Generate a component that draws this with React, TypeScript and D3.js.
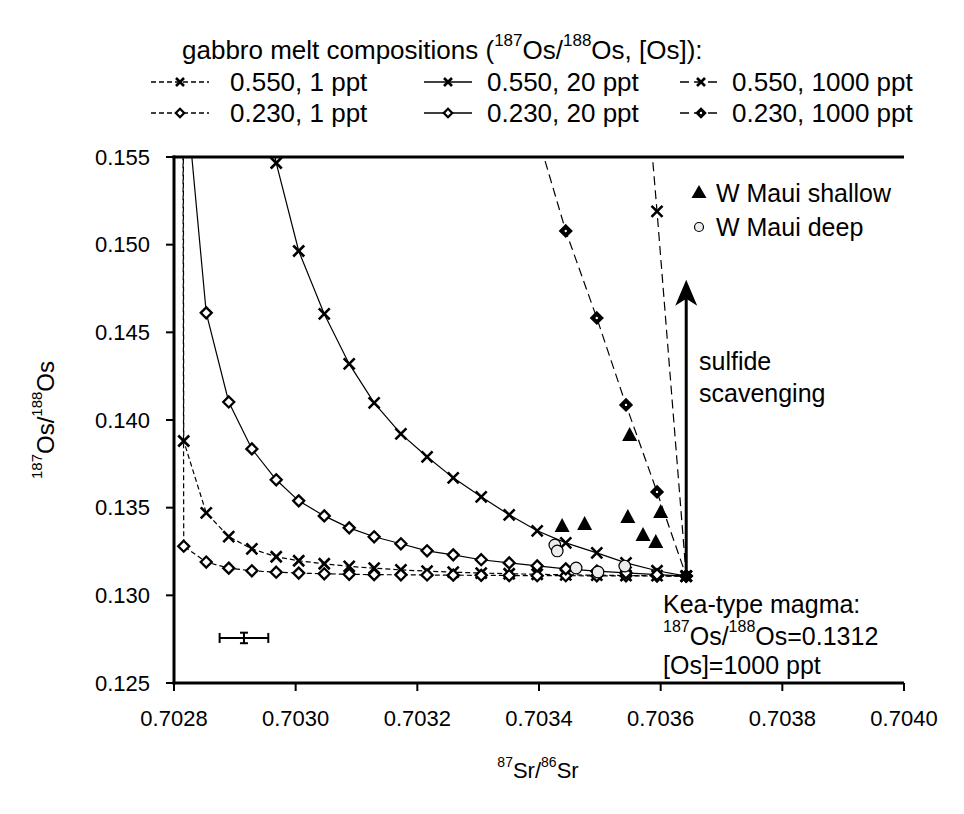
import React from 'react';
import * as d3 from 'd3';

const W = 964;
const H = 814;

// shared 87Sr/86Sr mixing steps (marker positions)
const srGrid = [0.70281, 0.702816, 0.702853, 0.70289, 0.702928, 0.702968, 0.703005, 0.703047, 0.703088, 0.703129, 0.703173, 0.703216, 0.703259, 0.703305, 0.703351, 0.703397, 0.703444, 0.703495, 0.703543, 0.703594, 0.703642];

// 187Os/188Os along each mixing curve (null = not computed)
const os550_1 = [0.30, 0.1388, 0.1347, 0.13335, 0.13265, 0.1322, 0.13197, 0.1318, 0.13165, 0.13155, 0.13145, 0.13138, 0.13132, 0.13127, 0.13123, 0.1312, 0.13117, 0.13115, 0.13113, 0.13112, 0.1311];
const os230_1 = [0.25, 0.1328, 0.1319, 0.13155, 0.1314, 0.13132, 0.13127, 0.13123, 0.1312, 0.13118, 0.13117, 0.13116, 0.13115, 0.13114, 0.13113, 0.13112, 0.13112, 0.13111, 0.13111, 0.1311, 0.1311];
const os550_20 = [null, null, null, null, 0.162, 0.15466, 0.14964, 0.14605, 0.1432, 0.14098, 0.13921, 0.1379, 0.1367, 0.13562, 0.13459, 0.13368, 0.13299, 0.13242, 0.13185, 0.1314, 0.1311];
const os230_20 = [null, 0.160, 0.14611, 0.14103, 0.13835, 0.13659, 0.13539, 0.13453, 0.13385, 0.13334, 0.13294, 0.13254, 0.13231, 0.13203, 0.13185, 0.13168, 0.13151, 0.13138, 0.13128, 0.13118, 0.1311];
const os550_1000 = [null, null, null, null, null, null, null, null, null, null, null, null, null, null, null, null, null, null, 0.173, 0.1519, 0.1311];
const os230_1000 = [null, null, null, null, null, null, null, null, null, null, null, null, null, null, null, 0.1563, 0.15078, 0.14582, 0.14086, 0.1359, 0.1311];

// W Maui samples
const shallowSr = [0.703438, 0.703475, 0.703546, 0.7036, 0.703571, 0.703592, 0.703549];
const shallowOs = [0.13395, 0.13407, 0.13447, 0.13475, 0.13344, 0.13304, 0.13914];
const deepSr = [0.703426, 0.70343, 0.703461, 0.703497, 0.703541];
const deepOs = [0.13287, 0.13253, 0.13156, 0.13133, 0.13167];

// analytical uncertainty
const errSr = [0.702915, 0.00004];
const errOs = [0.12757, 0.0003];

// Kea-type magma end-member
const keaSr = 0.703642;
const keaOs = 0.1311;
const arrowTopOs = 0.148;

const xTicks = [0.7028, 0.703, 0.7032, 0.7034, 0.7036, 0.7038, 0.704];
const yTicks = [0.125, 0.13, 0.135, 0.14, 0.145, 0.15, 0.155];

const legendLabels = ['0.550, 1 ppt', '0.550, 20 ppt', '0.550, 1000 ppt', '0.230, 1 ppt', '0.230, 20 ppt', '0.230, 1000 ppt'];

const FONT = '"Liberation Sans", Arial, Helvetica, sans-serif';
const DASH1 = '5,3';
const DASH1000 = '9,5';

type Series = { os: (number | null)[]; marker: 'x' | 'd'; dash: string | null; big?: boolean };

const series: Series[] = [
  { os: os550_1, marker: 'x', dash: DASH1 },
  { os: os550_20, marker: 'x', dash: null },
  { os: os550_1000, marker: 'x', dash: DASH1000 },
  { os: os230_1, marker: 'd', dash: DASH1 },
  { os: os230_20, marker: 'd', dash: null },
  { os: os230_1000, marker: 'd', dash: DASH1000, big: true },
];

function Marker({ type, cx, cy, s = 5.5, big }: { type: 'x' | 'd'; cx: number; cy: number; s?: number; big?: boolean }) {
  if (type === 'x') {
    return (
      <path d={`M${cx - s},${cy - s}L${cx + s},${cy + s}M${cx - s},${cy + s}L${cx + s},${cy - s}`} stroke="#000" strokeWidth={2.6} fill="none" />
    );
  }
  return (
    <g>
      <path d={`M${cx},${cy - s}L${cx + s},${cy}L${cx},${cy + s}L${cx - s},${cy}Z`} fill={big ? '#000' : '#fff'} stroke="#000" strokeWidth={2.3} />
      {big ? <circle cx={cx} cy={cy} r={1.2} fill="#fff" /> : null}
    </g>
  );
}

function Sup({ pre, a, mid, b, post, fs }: { pre?: string; a: string; mid: string; b?: string; post?: string; fs: number }) {
  const sf = Math.round(fs * 0.64);
  const dy = Math.round(fs * 0.38);
  return (
    <>
      {pre}
      <tspan fontSize={sf} dy={-dy}>{a}</tspan>
      <tspan dy={dy}>{mid}</tspan>
      {b ? <tspan fontSize={sf} dy={-dy}>{b}</tspan> : null}
      {post ? <tspan dy={dy}>{post}</tspan> : null}
    </>
  );
}

export default function App() {
  const x = d3.scaleLinear().domain([0.7028, 0.704]).range([174, 904]);
  const y = d3.scaleLinear().domain([0.125, 0.155]).range([683, 157]);
  const line = d3
    .line<[number, number]>()
    .x((d) => x(d[0]))
    .y((d) => y(d[1]));

  const fsTick = 22;
  const fsLeg = 26;
  const fsNote = 25;

  const legendCols = [
    { lx0: 151, lx1: 209, tx: 230 },
    { lx0: 424, lx1: 472, tx: 487 },
    { lx0: 680, lx1: 722, tx: 732 },
  ];
  const legendRows = [82, 113];

  return (
    <svg width={W} height={H} style={{ position: 'absolute', left: 0, top: 0, background: '#fff' }} fontFamily={FONT}>
      <rect x={0} y={0} width={W} height={H} fill="#fff" />
      <defs>
        <clipPath id="plot">
          <rect x={174} y={157} width={730} height={526} />
        </clipPath>
      </defs>

      {/* legend title */}
      <text x={182} y={50} fontSize={fsLeg} dominantBaseline="central">
        <Sup pre="gabbro melt compositions (" a="187" mid="Os/" b="188" post="Os, [Os]):" fs={fsLeg} />
      </text>

      {series.map((s, i) => {
        const col = legendCols[i % 3];
        const ry = legendRows[Math.floor(i / 3)];
        return (
          <g key={'lg' + i}>
            <line x1={col.lx0} x2={col.lx1} y1={ry} y2={ry} stroke="#000" strokeWidth={1.3} strokeDasharray={s.dash ?? undefined} />
            <Marker type={s.marker} cx={(col.lx0 + col.lx1) / 2} cy={ry} s={s.marker === 'x' ? 4 : 4.2} big={s.big} />
            <text x={col.tx} y={ry} fontSize={fsLeg} dominantBaseline="central">
              {legendLabels[i]}
            </text>
          </g>
        );
      })}

      {/* curves */}
      <g clipPath="url(#plot)">
        {series.map((s, i) => {
          const pts: [number, number][] = [];
          s.os.forEach((v, j) => {
            if (v !== null) pts.push([srGrid[j], v]);
          });
          return (
            <g key={'c' + i}>
              <path d={line(pts) ?? ''} fill="none" stroke="#000" strokeWidth={1.2} strokeDasharray={s.dash ?? undefined} />
              {pts.map((p, j) => (s.os[0] !== null && j === 0) ? null : (
                <Marker key={j} type={s.marker} cx={x(p[0])} cy={y(p[1])} big={s.big} />
              ))}
            </g>
          );
        })}

        {/* deep samples */}
        {deepSr.map((v, i) => (
          <circle key={'dp' + i} cx={x(v)} cy={y(deepOs[i])} r={5.8} fill="#ececec" stroke="#000" strokeWidth={1.2} />
        ))}
        {/* shallow samples */}
        {shallowSr.map((v, i) => {
          const cx = x(v);
          const cy = y(shallowOs[i]);
          return <path key={'sh' + i} d={`M${cx},${cy - 8}L${cx + 7.5},${cy + 6}L${cx - 7.5},${cy + 6}Z`} fill="#000" />;
        })}

        {/* Kea end-member */}
        <Marker type="x" cx={x(keaSr)} cy={y(keaOs)} />
      </g>

      {/* sulfide scavenging arrow */}
      <line x1={x(keaSr)} x2={x(keaSr)} y1={y(keaOs)} y2={y(arrowTopOs) + 16} stroke="#000" strokeWidth={3} />
      <path
        d={`M${x(keaSr)},${y(arrowTopOs)}L${x(keaSr) + 11},${y(arrowTopOs) + 26}L${x(keaSr)},${y(arrowTopOs) + 19}L${x(keaSr) - 11},${y(arrowTopOs) + 26}Z`}
        fill="#000"
      />
      <text x={699} y={361} fontSize={fsNote} dominantBaseline="central">sulfide</text>
      <text x={699} y={393} fontSize={fsNote} dominantBaseline="central">scavenging</text>

      {/* error bar */}
      <g stroke="#000" strokeWidth={2}>
        <line x1={x(errSr[0] - errSr[1])} x2={x(errSr[0] + errSr[1])} y1={y(errOs[0])} y2={y(errOs[0])} />
        <line x1={x(errSr[0] - errSr[1])} x2={x(errSr[0] - errSr[1])} y1={y(errOs[0]) - 5} y2={y(errOs[0]) + 5} />
        <line x1={x(errSr[0] + errSr[1])} x2={x(errSr[0] + errSr[1])} y1={y(errOs[0]) - 5} y2={y(errOs[0]) + 5} />
        <line x1={x(errSr[0])} x2={x(errSr[0])} y1={y(errOs[0] + errOs[1])} y2={y(errOs[0] - errOs[1])} />
        <line x1={x(errSr[0]) - 4} x2={x(errSr[0]) + 4} y1={y(errOs[0] + errOs[1])} y2={y(errOs[0] + errOs[1])} />
        <line x1={x(errSr[0]) - 4} x2={x(errSr[0]) + 4} y1={y(errOs[0] - errOs[1])} y2={y(errOs[0] - errOs[1])} />
      </g>

      {/* data legend */}
      <path d={`M699,185L706.5,198L691.5,198Z`} fill="#000" />
      <text x={716} y={193} fontSize={fsNote} dominantBaseline="central">W Maui shallow</text>
      <circle cx={699} cy={227} r={4.5} fill="#ececec" stroke="#000" strokeWidth={1.2} />
      <text x={716} y={227} fontSize={fsNote} dominantBaseline="central">W Maui deep</text>

      {/* Kea annotation */}
      <text x={663} y={604} fontSize={fsNote} dominantBaseline="central">Kea-type magma:</text>
      <text x={663} y={636} fontSize={fsNote} dominantBaseline="central">
        <Sup a="187" mid="Os/" b="188" post="Os=0.1312" fs={fsNote} />
      </text>
      <text x={663} y={665} fontSize={fsNote} dominantBaseline="central">[Os]=1000 ppt</text>

      {/* frame and axes */}
      <line x1={172.5} x2={904} y1={157} y2={157} stroke="#000" strokeWidth={3} />
      <line x1={174} x2={174} y1={155.5} y2={684.5} stroke="#000" strokeWidth={3} />
      <line x1={172.5} x2={904} y1={683} y2={683} stroke="#000" strokeWidth={3} />

      {yTicks.map((t) => (
        <g key={'yt' + t}>
          <line x1={166} x2={174} y1={y(t)} y2={y(t)} stroke="#000" strokeWidth={2} />
          <text x={150} y={y(t)} fontSize={fsTick} textAnchor="end" dominantBaseline="central">
            {d3.format('.3f')(t)}
          </text>
        </g>
      ))}
      {xTicks.map((t) => (
        <g key={'xt' + t}>
          <line x1={x(t)} x2={x(t)} y1={683} y2={691} stroke="#000" strokeWidth={2} />
          <text x={x(t)} y={718} fontSize={fsTick} textAnchor="middle" dominantBaseline="central">
            {d3.format('.4f')(t)}
          </text>
        </g>
      ))}

      {/* axis titles */}
      <text x={538} y={770} fontSize={fsTick} textAnchor="middle" dominantBaseline="central">
        <Sup a="87" mid="Sr/" b="86" post="Sr" fs={fsTick} />
      </text>
      <text transform={`translate(45,420) rotate(-90)`} fontSize={24} textAnchor="middle" dominantBaseline="central">
        <Sup a="187" mid="Os/" b="188" post="Os" fs={24} />
      </text>
    </svg>
  );
}
